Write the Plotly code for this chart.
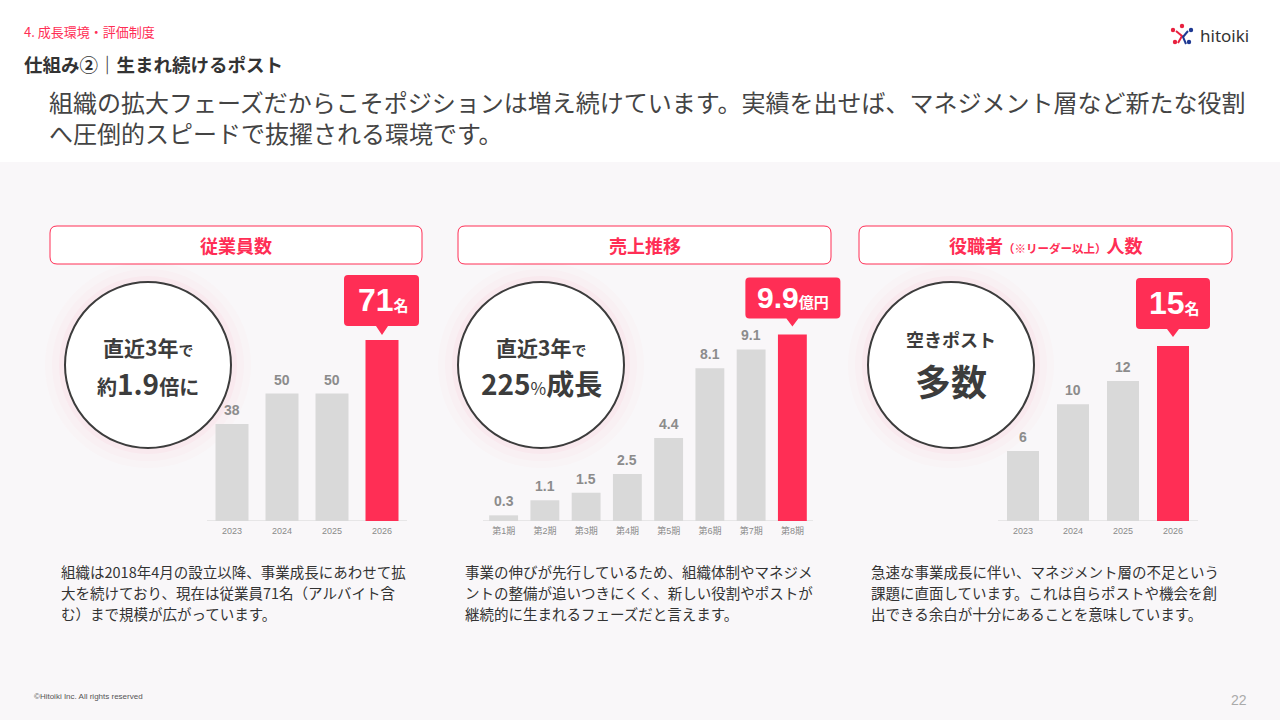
import plotly.graph_objects as go

W, H = 1280, 720

# ---- data ----
emp_years = ["2023", "2024", "2025", "2026"]
emp_counts = [38, 50, 50, 71]

sales_terms = ["第1期", "第2期", "第3期", "第4期", "第5期", "第6期", "第7期", "第8期"]
sales_values = [0.3, 1.1, 1.5, 2.5, 4.4, 8.1, 9.1, 9.9]

lead_years = ["2023", "2024", "2025", "2026"]
lead_counts = [6, 10, 12, 15]

panel_titles = ["従業員数", "売上推移",
                "役職者<span style='font-size:11.5px'>（※リーダー以上）</span>人数"]
callout_units = ["名", "億円", "名"]
descriptions = [
    ["組織は2018年4月の設立以降、事業成長にあわせて拡",
     "大を続けており、現在は従業員71名（アルバイト含",
     "む）まで規模が広がっています。"],
    ["事業の伸びが先行しているため、組織体制やマネジメ",
     "ントの整備が追いつきにくく、新しい役割やポストが",
     "継続的に生まれるフェーズだと言えます。"],
    ["急速な事業成長に伴い、マネジメント層の不足という",
     "課題に直面しています。これは自らポストや機会を創",
     "出できる余白が十分にあることを意味しています。"],
]

PINK = "#ff2e55"
GREY_BAR = "#d9d9d9"
DARK = "#3c3c3c"
JP = "Noto Sans CJK JP"
NUM = "Liberation Sans"


def px(x):
    return x / W


def py(y):
    return 1 - y / H


def note(x, y, text, font, xanchor="center", yanchor="middle", **kw):
    # paper-positioned text given in page pixels
    d = dict(x=px(x), y=py(y), xref="paper", yref="paper", text=text, showarrow=False,
             xanchor=xanchor, yanchor=yanchor, font=font)
    d.update(kw)
    return d


def rounded_rect(x0, y0, x1, y1, r):
    pts = [
        f"M {px(x0 + r)},{py(y0)}", f"L {px(x1 - r)},{py(y0)}",
        f"Q {px(x1)},{py(y0)} {px(x1)},{py(y0 + r)}", f"L {px(x1)},{py(y1 - r)}",
        f"Q {px(x1)},{py(y1)} {px(x1 - r)},{py(y1)}", f"L {px(x0 + r)},{py(y1)}",
        f"Q {px(x0)},{py(y1)} {px(x0)},{py(y1 - r)}", f"L {px(x0)},{py(y0 + r)}",
        f"Q {px(x0)},{py(y0)} {px(x0 + r)},{py(y0)}", "Z",
    ]
    return " ".join(pts)


def callout_path(xl, xr, yb, yt, tip, r=4, hw=6):
    # pixel offsets relative to the bar top (y up)
    return (f"M {xl + r},{yb} L {-hw},{yb} L 0,{tip} L {hw},{yb} L {xr - r},{yb} "
            f"Q {xr},{yb} {xr},{yb + r} L {xr},{yt - r} Q {xr},{yt} {xr - r},{yt} "
            f"L {xl + r},{yt} Q {xl},{yt} {xl},{yt - r} L {xl},{yb + r} "
            f"Q {xl},{yb} {xl + r},{yb} Z")


# step = pixels per category; extra room on the right keeps the callout inside the plot area
panels = [
    dict(cats=emp_years, vals=emp_counts, fmt="{:d}", x0=207, step=50, k=2.55, width=0.66,
         box=(-38, 37, 14, 65, 5), text_shift=40, big=32, small=15,
         head=(50, 422), circle=(148, 365), desc_x=59),
    dict(cats=sales_terms, vals=sales_values, fmt="{:.1f}", x0=483, step=41.25, k=18.85, width=0.70,
         box=(-47, 48, 16, 57, 8), text_shift=37, big=30, small=15,
         head=(458, 831), circle=(541, 365), desc_x=463),
    dict(cats=lead_years, vals=lead_counts, fmt="{:d}", x0=998, step=50, k=11.67, width=0.64,
         box=(-37, 37, 17, 68, 9), text_shift=43, big=32, small=15,
         head=(859, 1232), circle=(951, 365), desc_x=869),
]

BASE, TOP, PAD = 521, 270, 32

fig = go.Figure()
shapes = []
annotations = []
layout_axes = {}

# white header band over the tinted page
shapes.append(dict(type="rect", xref="paper", yref="paper", x0=0, x1=1, y0=py(162), y1=1,
                   fillcolor="white", line=dict(width=0), layer="below"))

for i, p in enumerate(panels):
    sfx = "" if i == 0 else str(i + 1)
    n = len(p["vals"])
    pos = list(range(n))
    colors = [GREY_BAR] * (n - 1) + [PINK]
    fig.add_trace(go.Bar(x=pos, y=p["vals"], marker=dict(color=colors, line=dict(width=0)),
                         width=p["width"], xaxis="x" + sfx, yaxis="y" + sfx,
                         customdata=p["cats"], hovertemplate="%{customdata}: %{y}<extra></extra>",
                         showlegend=False))
    x1 = p["x0"] + n * p["step"] + PAD
    layout_axes["xaxis" + sfx] = dict(
        domain=[px(p["x0"]), px(x1)], anchor="y" + sfx,
        range=[-0.5, n - 0.5 + PAD / p["step"]], tickmode="array", tickvals=pos, ticktext=p["cats"],
        showline=False, showgrid=False, zeroline=False, ticklabelstandoff=3,
        ticks="", tickfont=dict(family=NUM + ", " + JP, size=9, color="#8a8a8a"),
        fixedrange=True)
    layout_axes["yaxis" + sfx] = dict(
        domain=[py(BASE), py(TOP)], anchor="x" + sfx, range=[0, (BASE - TOP) / p["k"]],
        visible=False, fixedrange=True)

    xr, yr = "x" + sfx, "y" + sfx
    # baseline under the bars only
    shapes.append(dict(type="line", xref=xr, yref=yr, x0=-0.5, x1=n - 0.5, y0=0, y1=0,
                       line=dict(color="#d4d4d4", width=1), layer="below"))
    # value labels on the grey bars
    for x, v in zip(pos[:-1], p["vals"][:-1]):
        annotations.append(dict(x=x, y=v, xref=xr, yref=yr, text=p["fmt"].format(v),
                                showarrow=False, xanchor="center", yanchor="bottom", yshift=4,
                                font=dict(family=NUM, size=14, color="#8c8c8c", weight="bold")))
    # callout on the latest bar
    xl, xrr, yb, yt, tip = p["box"]
    shapes.append(dict(type="path", xref=xr, yref=yr, xsizemode="pixel", ysizemode="pixel",
                       xanchor=pos[-1], yanchor=p["vals"][-1],
                       path=callout_path(xl, xrr, yb, yt, tip),
                       fillcolor=PINK, line=dict(width=0), layer="above"))
    annotations.append(dict(
        x=pos[-1], y=p["vals"][-1], xref=xr, yref=yr, showarrow=False,
        xanchor="center", yanchor="middle", yshift=p["text_shift"], xshift=1,
        text=f"<b>{p['fmt'].format(p['vals'][-1])}</b>"
             f"<span style='font-size:{p['small']}px'><b>{callout_units[i]}</b></span>",
        font=dict(family=NUM + ", " + JP, size=p["big"], color="white")))

    # header box
    hx0, hx1 = p["head"]
    shapes.append(dict(type="path", xref="paper", yref="paper",
                       path=rounded_rect(hx0, 226, hx1, 264, 7),
                       fillcolor="white", line=dict(color=PINK, width=1), layer="below"))
    annotations.append(note((hx0 + hx1) / 2, 245, f"<b>{panel_titles[i]}</b>",
                            dict(family=JP, size=18, color=PINK)))

    # circle with a soft pink glow
    cx, cy = p["circle"]
    for extra, alpha in [(20, 0.015), (13, 0.02), (6, 0.03)]:
        rr = 83 + extra
        shapes.append(dict(type="circle", xref="paper", yref="paper",
                           x0=px(cx - rr), x1=px(cx + rr), y0=py(cy + rr), y1=py(cy - rr),
                           fillcolor=f"rgba(255,46,85,{alpha})", line=dict(width=0), layer="below"))
    shapes.append(dict(type="circle", xref="paper", yref="paper",
                       x0=px(cx - 83), x1=px(cx + 83), y0=py(cy + 83), y1=py(cy - 83),
                       fillcolor="white", line=dict(color=DARK, width=2), layer="below"))

    # description lines
    for j, line in enumerate(descriptions[i]):
        annotations.append(note(p["desc_x"], 571 + 21 * j, line,
                                dict(family=JP, size=14.5, color="#333333"), xanchor="left"))

# circle texts
circle_lines = [
    [(347, "<b>直近3年</b><span style='font-size:15px'><b>で</b></span>", 21),
     (383, "<b>約</b><span style='font-size:28px'><b>1.9</b></span><b>倍に</b>", 20)],
    [(347, "<b>直近3年</b><span style='font-size:15px'><b>で</b></span>", 21),
     (383, "<b>225</b><span style='font-size:17px'>%</span><b>成長</b>", 28)],
    [(339, "<b>空きポスト</b>", 18),
     (380, "<b>多数</b>", 36)],
]
for p, lines in zip(panels, circle_lines):
    cx, _ = p["circle"]
    for y, txt, size in lines:
        annotations.append(note(cx, y, txt, dict(family=JP, size=size, color=DARK)))

# page header / footer
annotations += [
    note(22, 32, "4. 成長環境・評価制度", dict(family=JP, size=13, color=PINK), xanchor="left"),
    note(22, 64, "<b>仕組み②｜生まれ続けるポスト</b>", dict(family=JP, size=18.5, color="#333333"),
         xanchor="left"),
    note(47, 117, "組織の拡大フェーズだからこそポジションは増え続けています。実績を出せば、マネジメント層など新たな役割"
                  "<br>へ圧倒的スピードで抜擢される環境です。",
         dict(family=JP, size=24, color="#444444"), xanchor="left", align="left"),
    note(1198, 35, "hitoiki", dict(family="Noto Sans", size=17, color="#333333"), xanchor="left"),
    note(32, 696, "©Hitoiki Inc. All rights reserved", dict(family=NUM, size=8, color="#555555"),
         xanchor="left"),
    note(1249, 700, "22", dict(family=NUM, size=14, color="#aaaaaa"), xanchor="right"),
]

# logo icon
logo_dots = [(1182, 26, "#e8213f"), (1173, 30, "#e8213f"), (1175, 42, "#e8213f"),
             (1191, 30, "#1f3a93"), (1189, 42, "#1f3a93")]
for x, y, col in logo_dots:
    shapes.append(dict(type="circle", xref="paper", yref="paper",
                       x0=px(x - 2.2), x1=px(x + 2.2), y0=py(y + 2.2), y1=py(y - 2.2),
                       fillcolor=col, line=dict(width=0)))
shapes.append(dict(type="path", xref="paper", yref="paper",
                   path=f"M {px(1176)},{py(31)} L {px(1182)},{py(36)} L {px(1178)},{py(43)}",
                   line=dict(color="#e8213f", width=2)))
shapes.append(dict(type="path", xref="paper", yref="paper",
                   path=f"M {px(1188)},{py(31)} L {px(1183)},{py(37)} L {px(1186)},{py(44)}",
                   line=dict(color="#1f3a93", width=2)))

fig.update_layout(
    width=W, height=H, margin=dict(l=0, r=0, t=0, b=0),
    paper_bgcolor="#f9f7f9", plot_bgcolor="rgba(0,0,0,0)",
    shapes=shapes, annotations=annotations, showlegend=False,
    font=dict(family=JP),
    **layout_axes,
)

fig.write_html("out.html", config={"displayModeBar": False},
               post_script="document.body.style.margin='0';")
